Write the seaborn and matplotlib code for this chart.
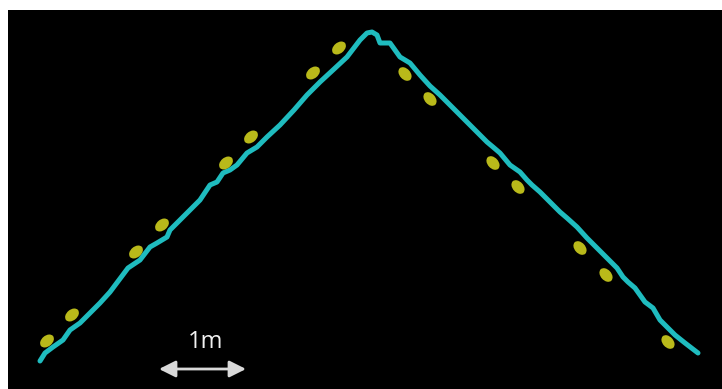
import numpy as np
import pandas as pd
import seaborn as sns
import matplotlib.pyplot as plt
from matplotlib.markers import MarkerStyle
from matplotlib.transforms import Affine2D

# traced path (image pixel coords, y grows downward)
path_x = [40, 45, 53, 63, 70, 80, 90, 100, 110, 128, 140, 150, 157, 167, 170, 180,
          190, 200, 210, 217, 223, 230, 237, 247, 257, 267, 280, 294, 307, 320, 333,
          347, 360, 367, 372, 377, 380, 390, 395, 400, 410, 420, 430, 440, 453, 470,
          487, 493, 500, 510, 520, 527, 532, 540, 550, 560, 567, 577, 587, 597, 607,
          617, 623, 628, 635, 645, 653, 660, 668, 675, 685, 698]
path_y = [361, 353, 347, 340, 330, 323, 313, 303, 292, 268, 260, 247, 243, 237, 230, 220,
          210, 200, 185, 182, 173, 170, 165, 153, 147, 137, 125, 110, 95, 82, 70,
          57, 40, 33, 32, 35, 43, 43, 50, 57, 63, 75, 86, 95, 108, 125,
          142, 147, 153, 165, 172, 180, 185, 192, 202, 212, 218, 227, 238, 248, 258,
          268, 277, 282, 288, 302, 308, 320, 328, 335, 343, 353]

# detected blobs
left_x = [47, 72, 136, 162, 226, 251, 313, 339]
left_y = [341, 315, 252, 225, 163, 137, 73, 48]
right_x = [405, 430, 493, 518, 580, 606, 668]
right_y = [74, 99, 163, 187, 248, 275, 342]

cyan = "#1fbcbf"
olive = "#b9b91a"

sns.set_style("white")
fig = plt.figure(figsize=(7.22, 3.89), dpi=100)
fig.patch.set_facecolor("white")
ax = fig.add_axes([8 / 722, 0, 714 / 722, 379 / 389])
ax.set_facecolor("black")

path = pd.DataFrame({"x": path_x, "y": path_y})
sns.lineplot(data=path, x="x", y="y", sort=False, estimator=None, color=cyan,
             linewidth=3.6, ax=ax)

m_left = MarkerStyle("o", transform=Affine2D().scale(1.45, 1.0).rotate_deg(40))
m_right = MarkerStyle("o", transform=Affine2D().scale(1.45, 1.0).rotate_deg(-48))
sns.scatterplot(x=left_x, y=left_y, marker=m_left, s=60, color=olive,
                edgecolor="none", ax=ax, zorder=3)
sns.scatterplot(x=right_x, y=right_y, marker=m_right, s=60, color=olive,
                edgecolor="none", ax=ax, zorder=3)

# scale bar
ax.annotate("", xy=(246, 369), xytext=(159, 369),
            arrowprops=dict(arrowstyle="<|-|>", color="#d9d9d9", lw=2,
                            mutation_scale=25, shrinkA=0, shrinkB=0))
ax.text(206, 342, "1m", color="#f2f2f2", fontsize=17, family="Open Sans",
        ha="center", va="center")

ax.set_xlim(8, 722)
ax.set_ylim(389, 10)
ax.set_xticks([])
ax.set_yticks([])
ax.set_xlabel("")
ax.set_ylabel("")
for sp in ax.spines.values():
    sp.set_visible(False)

fig.savefig("out.png", dpi=100, facecolor="white")
